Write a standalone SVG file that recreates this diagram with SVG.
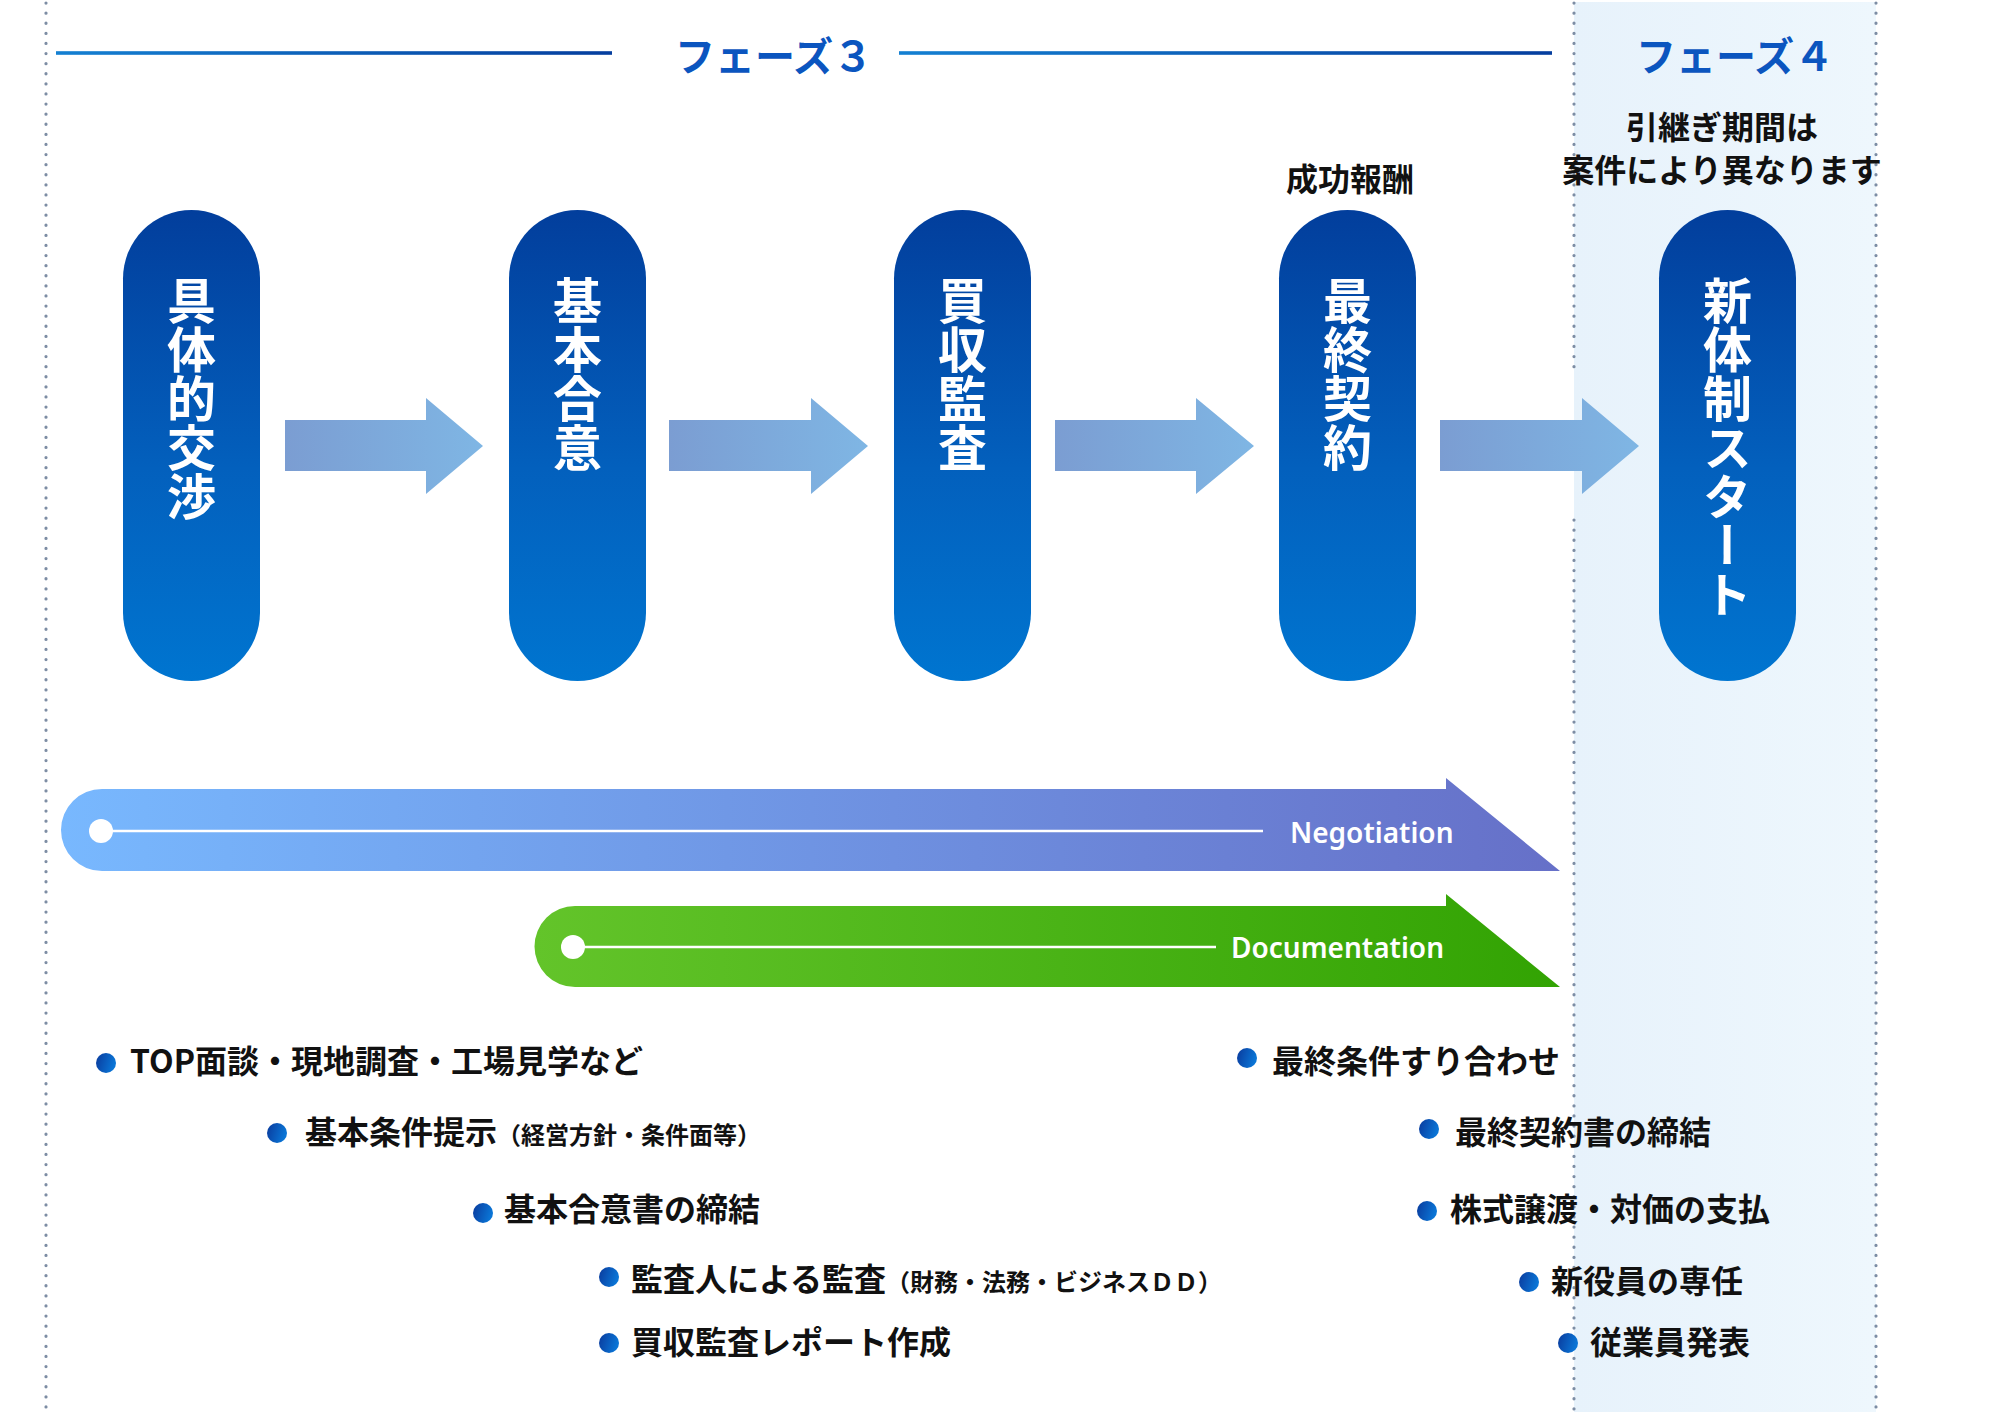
<svg xmlns="http://www.w3.org/2000/svg" width="2000" height="1412" viewBox="0 0 2000 1412">
<defs>
<linearGradient id="gPill" x1="0" y1="0" x2="0" y2="1">
<stop offset="0" stop-color="#023e9c"/>
<stop offset="0.55" stop-color="#0360bd"/>
<stop offset="1" stop-color="#0075d0"/>
</linearGradient>
<linearGradient id="gArrow" x1="0" y1="0" x2="1" y2="0">
<stop offset="0" stop-color="#7b9dd2"/>
<stop offset="1" stop-color="#7fb6e4"/>
</linearGradient>
<linearGradient id="gLine" x1="0" y1="0" x2="1" y2="0">
<stop offset="0" stop-color="#1480d2"/>
<stop offset="1" stop-color="#053e9e"/>
</linearGradient>
<linearGradient id="gNeg" x1="0" y1="0" x2="1" y2="0">
<stop offset="0" stop-color="#78b8fe"/>
<stop offset="1" stop-color="#6670c8"/>
</linearGradient>
<linearGradient id="gDoc" x1="0" y1="0" x2="1" y2="0">
<stop offset="0" stop-color="#63c42a"/>
<stop offset="1" stop-color="#32a303"/>
</linearGradient>
<linearGradient id="gBullet" x1="0" y1="0" x2="1" y2="0.3">
<stop offset="0" stop-color="#0a3a9c"/>
<stop offset="1" stop-color="#0a75d6"/>
</linearGradient>
<linearGradient id="gBand" x1="0" y1="0" x2="1" y2="0">
<stop offset="0" stop-color="#e7f2fb"/>
<stop offset="1" stop-color="#eef7fd"/>
</linearGradient>
</defs>
<style>
.dot{stroke:#7d8da4;stroke-width:3.2;stroke-dasharray:0.1 10;stroke-linecap:round;fill:none}
.hline{fill:url(#gLine)}
.phase{font-family:"Noto Sans CJK JP","Noto Sans",sans-serif;font-weight:700;font-size:40px;fill:#0b55bf}
.note{font-family:"Noto Sans CJK JP","Noto Sans",sans-serif;font-weight:700;font-size:32px;fill:#111111;text-anchor:middle}
.pill{fill:url(#gPill)}
.pillt{font-family:"Noto Sans CJK JP","Noto Sans",sans-serif;font-weight:700;font-size:49px;fill:#ffffff;writing-mode:vertical-rl;text-anchor:start}
.arr{fill:url(#gArrow)}
.bar-t{font-family:"Noto Sans","Noto Sans CJK JP",sans-serif;font-weight:600;font-size:28px;fill:#ffffff}
.wline{stroke:#ffffff;stroke-width:2.5}
.bul{fill:url(#gBullet)}
.item{font-family:"Noto Sans CJK JP","Noto Sans",sans-serif;font-weight:700;font-size:32px;fill:#111111}
.small{font-size:24px}
</style>
<rect width="2000" height="1412" fill="#ffffff"/>
<g id="phase4-band">
<rect x="1574" y="2" width="302" height="1410" fill="url(#gBand)"/>
</g>
<g id="guides">
<line class="dot" x1="46" y1="3" x2="46" y2="1410"/>
<line class="dot" x1="1574" y1="3" x2="1574" y2="373"/>
<line class="dot" x1="1574" y1="520" x2="1574" y2="1410"/>
<line class="dot" x1="1876" y1="3" x2="1876" y2="1410"/>
</g>
<g id="phase3-header">
<rect class="hline" x="56" y="51.2" width="556" height="3.6"/>
<rect class="hline" x="899" y="51.2" width="653" height="3.6"/>
<text class="phase" x="675" y="71">フェーズ３</text>
</g>
<g id="phase4-header">
<text class="phase" x="1636" y="71">フェーズ４</text>
<text class="note" x="1722" y="139">引継ぎ期間は</text>
<text class="note" x="1722" y="182">案件により異なります</text>
</g>
<g id="note-success-fee">
<text class="note" x="1350" y="191">成功報酬</text>
</g>
<g id="connectors">
<polygon class="arr" points="285,420 426,420 426,398 483,446 426,494 426,471 285,471"/>
<polygon class="arr" points="669,420 811,420 811,398 868,446 811,494 811,471 669,471"/>
<polygon class="arr" points="1055,420 1196,420 1196,398 1254,446 1196,494 1196,471 1055,471"/>
<polygon class="arr" points="1440,420 1582,420 1582,398 1639,446 1582,494 1582,471 1440,471"/>
</g>
<g id="node-gutaiteki-kosho">
<rect class="pill" x="123" y="210" width="137" height="471" rx="68.5"/>
<text class="pillt" x="191.5" y="276">具体的交渉</text>
</g>
<g id="node-kihon-goi">
<rect class="pill" x="509" y="210" width="137" height="471" rx="68.5"/>
<text class="pillt" x="577.5" y="276">基本合意</text>
</g>
<g id="node-baishu-kansa">
<rect class="pill" x="894" y="210" width="137" height="471" rx="68.5"/>
<text class="pillt" x="962.5" y="276">買収監査</text>
</g>
<g id="node-saishu-keiyaku">
<rect class="pill" x="1279" y="210" width="137" height="471" rx="68.5"/>
<text class="pillt" x="1347.5" y="276">最終契約</text>
</g>
<g id="node-shintaisei">
<rect class="pill" x="1659" y="210" width="137" height="471" rx="68.5"/>
<text class="pillt" x="1727.5" y="276">新体制スタート</text>
</g>
<g id="bar-negotiation">
<path d="M102,789 H1446 V778 L1560,871 H102 A41,41 0 0 1 102,789 Z" fill="url(#gNeg)"/>
<line class="wline" x1="110" y1="831" x2="1263" y2="831"/>
<circle cx="101" cy="831" r="12" fill="#ffffff"/>
<text class="bar-t" x="1290" y="843">Negotiation</text>
</g>
<g id="bar-documentation">
<path d="M575,906 H1446 V894 L1560,987 H575 A40.5,40.5 0 0 1 575,906 Z" fill="url(#gDoc)"/>
<line class="wline" x1="580" y1="947" x2="1216" y2="947"/>
<circle cx="573" cy="947" r="12" fill="#ffffff"/>
<text class="bar-t" x="1231" y="958">Documentation</text>
</g>
<g id="list-left">
<circle class="bul" cx="106" cy="1063" r="10"/>
<text class="item" x="130" y="1073">TOP面談・現地調査・工場見学など</text>
<circle class="bul" cx="277" cy="1133" r="10"/>
<text class="item" x="305" y="1144">基本条件提示<tspan class="small">（経営方針・条件面等）</tspan></text>
<circle class="bul" cx="483" cy="1213" r="10"/>
<text class="item" x="504" y="1221">基本合意書の締結</text>
<circle class="bul" cx="609" cy="1277" r="10"/>
<text class="item" x="631" y="1291">監査人による監査<tspan class="small">（財務・法務・ビジネスＤＤ）</tspan></text>
<circle class="bul" cx="609" cy="1343" r="10"/>
<text class="item" x="631" y="1354">買収監査レポート作成</text>
</g>
<g id="list-right">
<circle class="bul" cx="1247" cy="1058" r="10"/>
<text class="item" x="1272" y="1073">最終条件すり合わせ</text>
<circle class="bul" cx="1429" cy="1129" r="10"/>
<text class="item" x="1455" y="1144">最終契約書の締結</text>
<circle class="bul" cx="1427" cy="1211" r="10"/>
<text class="item" x="1450" y="1221">株式譲渡・対価の支払</text>
<circle class="bul" cx="1529" cy="1282" r="10"/>
<text class="item" x="1551" y="1293">新役員の専任</text>
<circle class="bul" cx="1568" cy="1343" r="10"/>
<text class="item" x="1590" y="1354">従業員発表</text>
</g>
</svg>
